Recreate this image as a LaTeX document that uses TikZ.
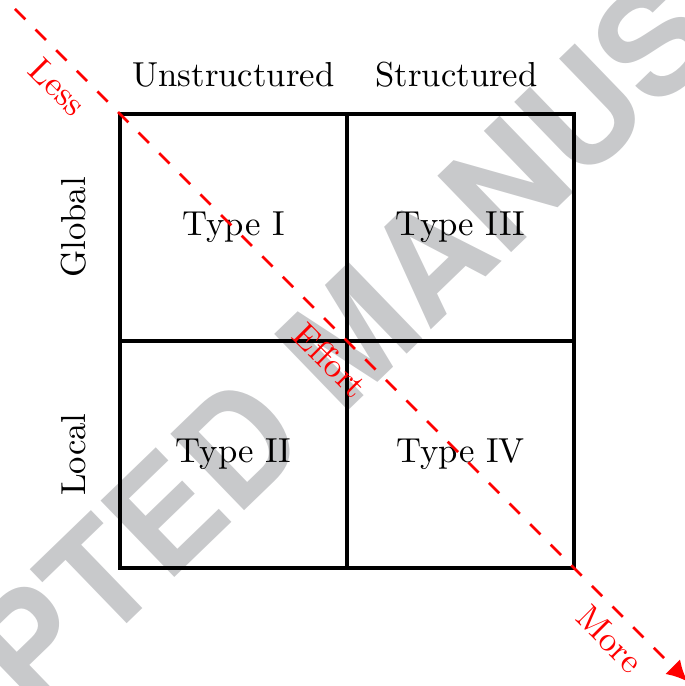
\documentclass[tikz,border=0pt]{standalone}
\usepackage{fontspec}
\usetikzlibrary{positioning, arrows.meta}
\newfontfamily\wmfont{TeX Gyre Heros}
\definecolor{wmgray}{RGB}{200,201,203}
\tikzset{
  cell/.style={draw, line width=1.1pt, rectangle, minimum size=2.3cm, outer sep=0pt},
  effort/.style={red, thick, dash pattern=on 4.2pt off 4.2pt, -{Latex[length=6pt,width=6pt]}}
}

\begin{document}
\begin{tikzpicture}
\useasboundingbox (-2.366,-4.645) rectangle (4.564,2.305);
% stamp behind everything
\node[wmgray, rotate=44, font=\wmfont\bfseries\fontsize{42}{42}\selectfont] (wm) at (1.21,-1.06) {ACCEPTED MANUSCRIPT};
% the four quadrants
\node[cell] (t1) {Type I};
\node[cell, right=0pt of t1] (t3) {Type III};
\node[cell, below=0pt of t1] (t2) {Type II};
\node[cell, right=0pt of t2] (t4) {Type IV};
% axis labels
\node[above=1.5mm of t1] (u) {Unstructured};
\node[above=1.5mm of t3, xshift=-0.4mm] (s) {Structured};
\node[rotate=90, left=2.2mm of t1, anchor=south] (g) {Global};
\node[rotate=90, left=2.2mm of t2, anchor=south] (l) {Local};
% effort diagonal
\coordinate (start) at (-2.214,2.214);
\coordinate (stop) at (4.6,-4.6);
\draw[effort] (start) -- (stop)
  node[pos=0.09, below, sloped] (less) {Less}
  node[pos=0.496, below, sloped] (eff) {Effort}
  node[pos=0.911, below, sloped] (more) {More};
\end{tikzpicture}
\end{document}
